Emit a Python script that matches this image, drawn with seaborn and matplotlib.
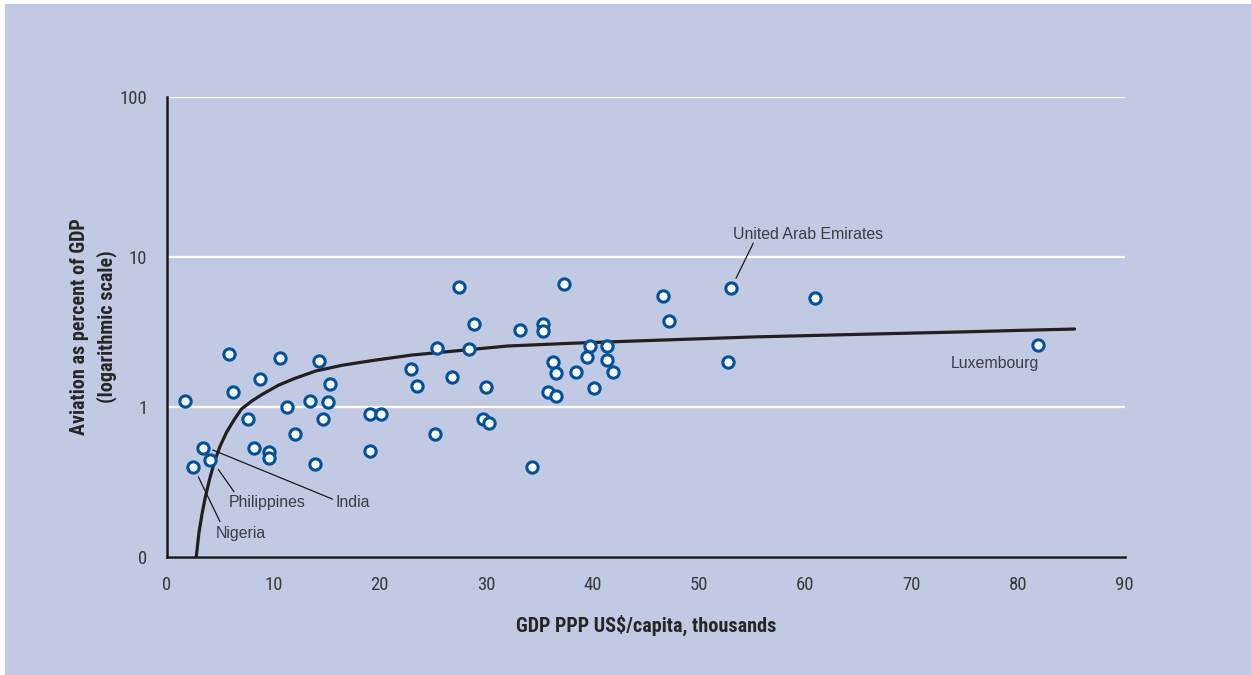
import numpy as np
import pandas as pd
import seaborn as sns
import matplotlib.pyplot as plt
from matplotlib import font_manager
from matplotlib.patches import Rectangle

# GDP per capita (PPP, thousand US$) and aviation share of GDP (%)
gdp = [1.7, 5.8, 10.6, 14.3, 8.7, 15.3, 6.2, 13.4, 15.1, 11.3, 19.1, 20.1, 7.6, 14.7, 12.0,
       3.4, 8.2, 9.6, 9.6, 4.0, 2.4, 13.9, 19.1,
       27.4, 28.9, 33.2, 35.3, 35.3, 25.4, 28.4, 36.3, 36.6, 22.9, 26.8, 23.5, 30.0, 35.8,
       36.6, 29.7, 30.3, 25.2, 34.3,
       37.3, 46.6, 53.0, 47.2, 39.8, 41.4, 39.5, 41.4, 38.4, 41.9, 40.1, 60.9, 52.7, 81.9]
aviation = [1.09, 2.25, 2.12, 2.03, 1.53, 1.42, 1.25, 1.09, 1.08, 1.0, 0.90, 0.90, 0.83, 0.83, 0.66,
            0.535, 0.535, 0.50, 0.455, 0.44, 0.40, 0.42, 0.51,
            6.31, 3.56, 3.24, 3.58, 3.21, 2.46, 2.45, 2.0, 1.69, 1.79, 1.59, 1.39, 1.35, 1.25,
            1.18, 0.83, 0.78, 0.66, 0.40,
            6.64, 5.47, 6.18, 3.73, 2.55, 2.55, 2.16, 2.06, 1.70, 1.70, 1.33, 5.35, 2.0, 2.60]

# trend curve
curve_x = [2.75, 3.0, 3.3, 3.6, 4.0, 4.5, 5.0, 5.6, 6.3, 7.0, 8.0, 9.0, 10.5, 12.0, 14.0,
           16.5, 19.5, 23, 27, 32, 38, 45, 55, 65, 75, 80, 85.3]
curve_y = [0.10, 0.145, 0.195, 0.25, 0.33, 0.44, 0.55, 0.68, 0.82, 0.97, 1.10, 1.22, 1.40,
           1.55, 1.74, 1.90, 2.05, 2.22, 2.36, 2.55, 2.66, 2.77, 2.93, 3.05, 3.17, 3.24, 3.31]

x_ticks = [0, 10, 20, 30, 40, 50, 60, 70, 80, 90]
y_ticks = [0.1, 1, 10, 100]
y_tick_labels = ['0', '1', '10', '100']

df = pd.DataFrame({'gdp': gdp, 'aviation': aviation})
trend = pd.DataFrame({'x': curve_x, 'y': curve_y})

bg = '#c2cae3'
sns.set_style('white')
avail = {f.name for f in font_manager.fontManager.ttflist}
narrow = next((f for f in ['Liberation Sans Narrow', 'Roboto Condensed', 'Arial Narrow']
               if f in avail), 'Liberation Sans')
plt.rcParams['font.family'] = ['Liberation Sans', 'DejaVu Sans']

fig = plt.figure(figsize=(12.51, 6.75), dpi=100)
fig.patch.set_facecolor('white')
fig.patches.append(Rectangle((5 / 1251, 0), 1, 1 - 4 / 675, transform=fig.transFigure,
                             facecolor=bg, edgecolor='none', zorder=-10))
ax = fig.add_axes([167 / 1251, 1 - 557 / 675, 957.6 / 1251, 460 / 675])
ax.set_facecolor(bg)


# the printed log axis has a slightly taller top decade
def fwd(v):
    v = np.log10(np.maximum(np.asarray(v, dtype=float), 1e-9))
    return np.where(v > 1, 1 + (v - 1) * 16 / 15, v)


def inv(u):
    u = np.asarray(u, dtype=float)
    return 10 ** np.where(u > 1, 1 + (u - 1) * 15 / 16, u)


ax.set_yscale('function', functions=(fwd, inv))

sns.lineplot(data=trend, x='x', y='y', ax=ax, color='#231f20', lw=2.3, sort=False,
             estimator=None, zorder=3)
sns.scatterplot(data=df, x='gdp', y='aviation', ax=ax, s=66, color='white',
                edgecolor='#00529b', linewidth=2.2, zorder=5)

ax.set_xlim(0, 90)
ax.set_ylim(0.1, 100)
ax.set_xticks(x_ticks)
ax.set_yticks(y_ticks)
ax.set_yticklabels(y_tick_labels)
ax.minorticks_off()

ax.grid(axis='y', color='white', lw=1.6)
ax.grid(axis='x', visible=False)
ax.set_axisbelow(True)

for s in ['top', 'right']:
    ax.spines[s].set_visible(False)
for s in ['left', 'bottom']:
    ax.spines[s].set_color('#1a1a1a')
    ax.spines[s].set_linewidth(1.8)
    ax.spines[s].set_zorder(6)

ax.tick_params(axis='x', direction='in', length=8.5, width=1.5, color='#1a1a1a',
               pad=14, labelsize=13.5, labelcolor='#3a3a3a')
ax.tick_params(axis='y', length=0, pad=14, labelsize=13.5, labelcolor='#3a3a3a')
for lab in ax.get_xticklabels() + ax.get_yticklabels():
    lab.set_family([narrow, 'DejaVu Sans'])

ax.set_xlabel('GDP PPP US$/capita, thousands', fontsize=14.5, fontweight='bold',
              color='#262626', family=[narrow, 'DejaVu Sans'])
ax.xaxis.set_label_coords(0.5, -0.126)
ax.set_ylabel('Aviation as percent of GDP\n(logarithmic scale)', fontsize=14.5,
              fontweight='bold', color='#262626', linespacing=1.45, family=[narrow, 'DejaVu Sans'])
ax.yaxis.set_label_coords(-0.052, 0.5)

# country call-outs: (label, text position, leader line start, leader line end)
callouts = [
    ('India', (15.8, 0.23), (4.3, 0.517), (15.57, 0.243)),
    ('Philippines', (5.83, 0.23), (4.82, 0.384), (6.3, 0.272)),
    ('Nigeria', (4.58, 0.144), (2.94, 0.343), (4.98, 0.172)),
    ('United Arab Emirates', (53.17, 13.9), (53.48, 7.21), (55.1, 12.2)),
    ('Luxembourg', (73.66, 1.94), None, None),
]
for name, pos, p0, p1 in callouts:
    ax.text(pos[0], pos[1], name, ha='left', va='center', fontsize=11.4,
            color='#3c3c46', zorder=7)
    if p0 is not None:
        ax.plot([p0[0], p1[0]], [p0[1], p1[1]], color='#1a1a1a', lw=0.9, zorder=4)

fig.savefig('out.png', dpi=100, facecolor=fig.get_facecolor())
